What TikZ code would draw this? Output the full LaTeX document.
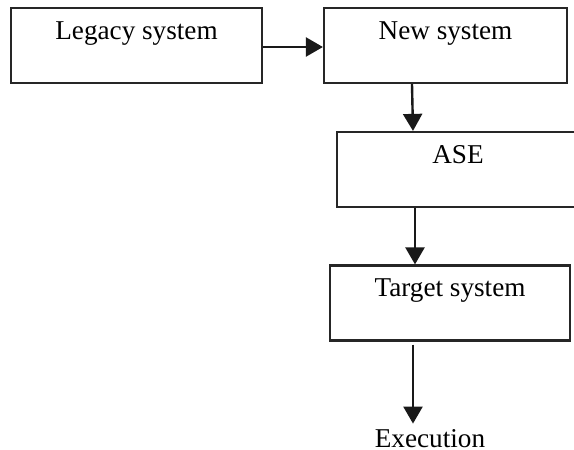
\documentclass[tikz,border=0pt]{standalone}
\usepackage{fontspec}
\setmainfont{Liberation Serif}
\usetikzlibrary{arrows.meta}

\begin{document}
\begin{tikzpicture}[x=0.5pt,y=-0.5pt]
\tikzset{block/.style = {shape=rectangle,draw=black!85,line width=1.1pt,inner sep=0pt,
  minimum width=#1,text height=15.5pt,text depth=22pt,
  font=\fontsize{13.6}{16}\selectfont}}
\tikzset{edge/.style = {-{Triangle[length=8.5pt,width=9.5pt]},line width=1.2pt,draw=black!90}}
\useasboundingbox (0,0) rectangle (574,450);
% blocks
\node[block=125.5pt] (legacy) at (136.5,45.5) {Legacy system};
\node[block=121.5pt] (newsys) at (445.5,45.5) {New system};
\node[block=121pt]   (ase)    at (458,169.5)  {ASE};
\node[block=120pt]   (target) at (450,303)    {Target system};
\node[inner sep=0pt,anchor=base,font=\fontsize{13.6}{16}\selectfont] (exec) at (430,447) {Execution};
%edges
\draw[edge] ([yshift=-0.75pt]legacy.east) -- ([yshift=-0.75pt]newsys.west);
\draw[edge] ([xshift=-16.75pt]newsys.south) -- ([xshift=-22.5pt]ase.north);
\draw[edge] ([xshift=-21.5pt]ase.south) -- ([xshift=-17.5pt]target.north);
\draw[edge] ([xshift=-18.5pt,yshift=-1.5pt]target.south) -- ([xshift=-8.5pt,yshift=2.5pt]exec.north);
\end{tikzpicture}
\end{document}
